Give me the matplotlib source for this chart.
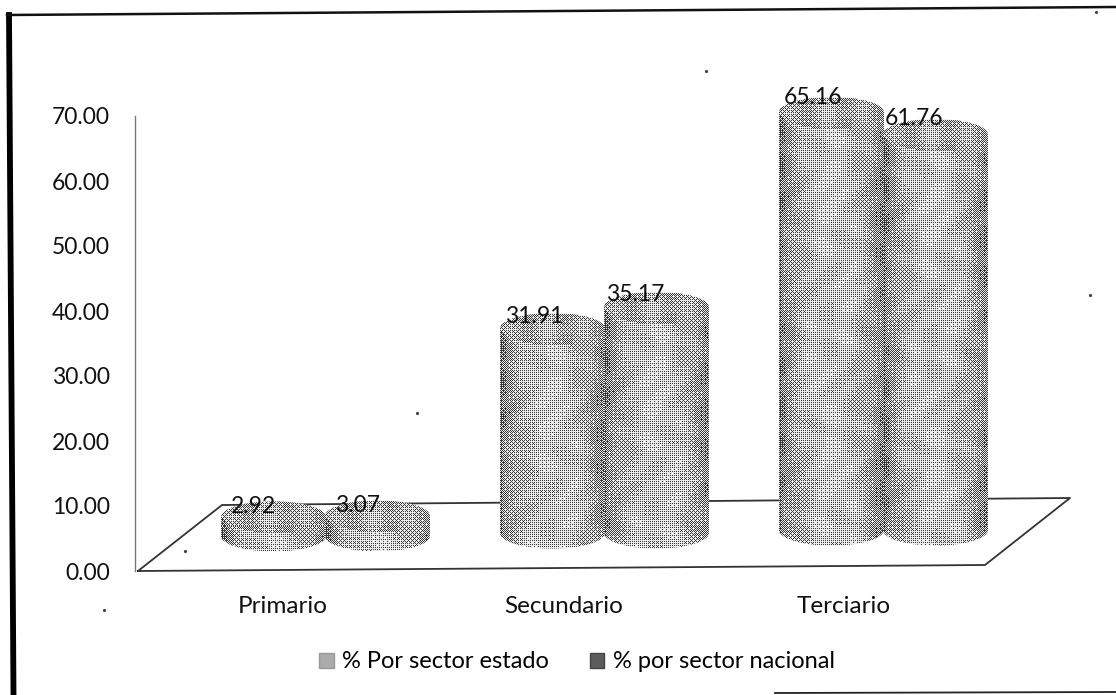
import numpy as np
import matplotlib
matplotlib.use("Agg")
import matplotlib.pyplot as plt
from matplotlib.patches import Patch, PathPatch
from matplotlib.path import Path

categories = ["Primario", "Secundario", "Terciario"]
estado = [2.92, 31.91, 65.16]
nacional = [3.07, 35.17, 61.76]
yticks = [0, 10, 20, 30, 40, 50, 60, 70]
names = ["% Por sector estado", "% por sector nacional"]

W, H = 1116, 695
plt.rcParams["font.family"] = ["Lato", "DejaVu Sans"]

# pixel layout of the plot area
left, right, y0, y70 = 135, 1070, 571, 116
px_per_cat = 279.0
ppu = (y0 - y70) / 70.0
xmin = 1 + (left - 604) / px_per_cat
xmax = 1 + (right - 604) / px_per_cat
cyl_w = 0.375
cyl_off = 0.186
base_y = 5.4
base_tilt = 0.45
ell_h = 2.4

bayer = np.array([[0, 8, 2, 10], [12, 4, 14, 6], [3, 11, 1, 9], [15, 7, 13, 5]]) / 16.0


def px(p):
    return 1 + (p - 604) / px_per_cat


def py(p):
    return (y0 - p) / ppu


def cylinder(ax, cx, value, bot, z):
    # snap the image to whole pixels so the dither is not resampled
    xa = round((cx - cyl_w / 2 - xmin) * px_per_cat)
    nx = round(cyl_w * px_per_cat)
    x0, x1 = xmin + xa / px_per_cat, xmin + (xa + nx) / px_per_cat
    cx = (x0 + x1) / 2
    hw, hh = (x1 - x0) / 2, ell_h
    top = base_y + value
    ny = round((top + hh - (bot - hh)) * ppu)
    ext_bot = top + hh - ny / ppu

    k = 0.5523
    verts = [(x0, top), (x0, bot),
             (x0, bot - k * hh), (cx - k * hw, bot - hh), (cx, bot - hh),
             (cx + k * hw, bot - hh), (x1, bot - k * hh), (x1, bot),
             (x1, top),
             (x1, top + k * hh), (cx + k * hw, top + hh), (cx, top + hh),
             (cx - k * hw, top + hh), (x0, top + k * hh), (x0, top),
             (x0, top)]
    codes = [Path.MOVETO, Path.LINETO] + [Path.CURVE4] * 6 + [Path.LINETO] + [Path.CURVE4] * 6 + [Path.CLOSEPOLY]
    clip = PathPatch(Path(verts, codes), transform=ax.transData, fc="none", ec="none")
    ax.add_patch(clip)

    # halftone body: light in the middle, dark at the sides, mottled like the scan
    xx, yy = np.meshgrid(np.arange(nx), np.arange(ny))
    u = np.linspace(-1, 1, nx)[None, :]
    img = 0.68 - 0.26 * np.abs(u) ** 2.5 - 0.10 * np.clip(-u - 0.9, 0, 1) * 10
    img = img + 0.07 * np.sin(xx / 8.0 + 2 * np.sin(yy / 15.0)) * np.cos(yy / 11.0 + xx / 21.0)
    # top face is a slightly darker ellipse
    hh_px = hh * ppu
    Y = (yy - hh_px) / hh_px
    inside = u ** 2 + Y ** 2 < 1
    img = np.where(inside, 0.52 + 0.10 * (1 - u ** 2 - Y ** 2) + 0.06 * np.sin(xx / 6.0), img)
    th = bayer[yy % 4, xx % 4]
    dith = np.where(img > th * 0.8 + 0.1, 0.92, 0.22)
    im = ax.imshow(dith, cmap="gray", vmin=0, vmax=1, extent=(x0, x1, ext_bot, top + hh),
                   aspect="auto", interpolation="nearest", zorder=z, origin="upper")
    im.set_clip_path(clip)
    im.set_clip_box(fig.bbox)


fig = plt.figure(figsize=(W / 100, H / 100), dpi=100)
ax = fig.add_axes([left / W, 1 - y0 / H, (right - left) / W, (y0 - y70) / H])

# floor of the 3d chart
ax.plot([px(138), px(222), px(1070), px(985), px(138)],
        [py(571), py(505), py(498), py(565), py(571)],
        color="#333333", lw=1.3, zorder=1, clip_on=False)

# label nudges in data units
label_dx = [[-0.07, -0.065, -0.065], [-0.07, -0.075, -0.075]]
label_dy = [[0, 0.3, 0.75], [0, 0.4, 0.9]]
for s, vals in enumerate([estado, nacional]):
    for i, v in enumerate(vals):
        cx = i + (-1 if s == 0 else 1) * cyl_off
        cylinder(ax, cx, v, base_y + base_tilt * i, 2 + s + i * 0.1)
        ax.text(cx + label_dx[s][i], base_y + v + 1.6 + label_dy[s][i], "%.2f" % v, ha="center", va="center",
                fontsize=16.5, color="#111111", zorder=6)

ax.set_xlim(xmin, xmax)
ax.set_ylim(0, 70)
ax.set_yticks(yticks)
ax.set_yticklabels(["%.2f" % t for t in yticks], fontsize=16.5, color="#111111")
ax.set_xticks([-0.15, 0.855, 1.86])
ax.set_xticklabels(categories, fontsize=17.5, color="#111111")
ax.tick_params(length=0)
ax.tick_params(axis="y", pad=18)
ax.tick_params(axis="x", pad=18)
for name in ["top", "right", "bottom"]:
    ax.spines[name].set_visible(False)
ax.spines["left"].set_color("#777777")
ax.spines["left"].set_linewidth(1)
ax.patch.set_alpha(0)

handles = [Patch(fc="#ababab", ec="#999999", label=names[0]),
           Patch(fc="#5c5c5c", ec="#444444", label=names[1])]
fig.legend(handles=handles, loc="center", bbox_to_anchor=(577 / W, 1 - 662 / H), ncol=2, frameon=False,
           fontsize=17, handlelength=0.6, handleheight=0.6, handletextpad=0.35, columnspacing=1.75,
           borderpad=0, borderaxespad=0)

# scan border and specks
fig.add_artist(plt.Line2D([9 / W, 13.5 / W], [1 - 15 / H, 0], color="black", lw=4.2))
fig.add_artist(plt.Line2D([7 / W, 1], [1 - 15 / H, 1 - 7 / H], color="#111111", lw=1.8))
fig.add_artist(plt.Line2D([775 / W, 1], [1 - 693 / H, 1 - 692 / H], color="#222222", lw=1.3))
for sx, sy in [(417, 413), (1090, 295), (104, 610), (706, 71), (1096, 12), (185, 551)]:
    fig.add_artist(plt.Line2D([sx / W], [1 - sy / H], marker="o", ms=1.3, color="#444444", lw=0))

fig.savefig("out.png", dpi=100)
